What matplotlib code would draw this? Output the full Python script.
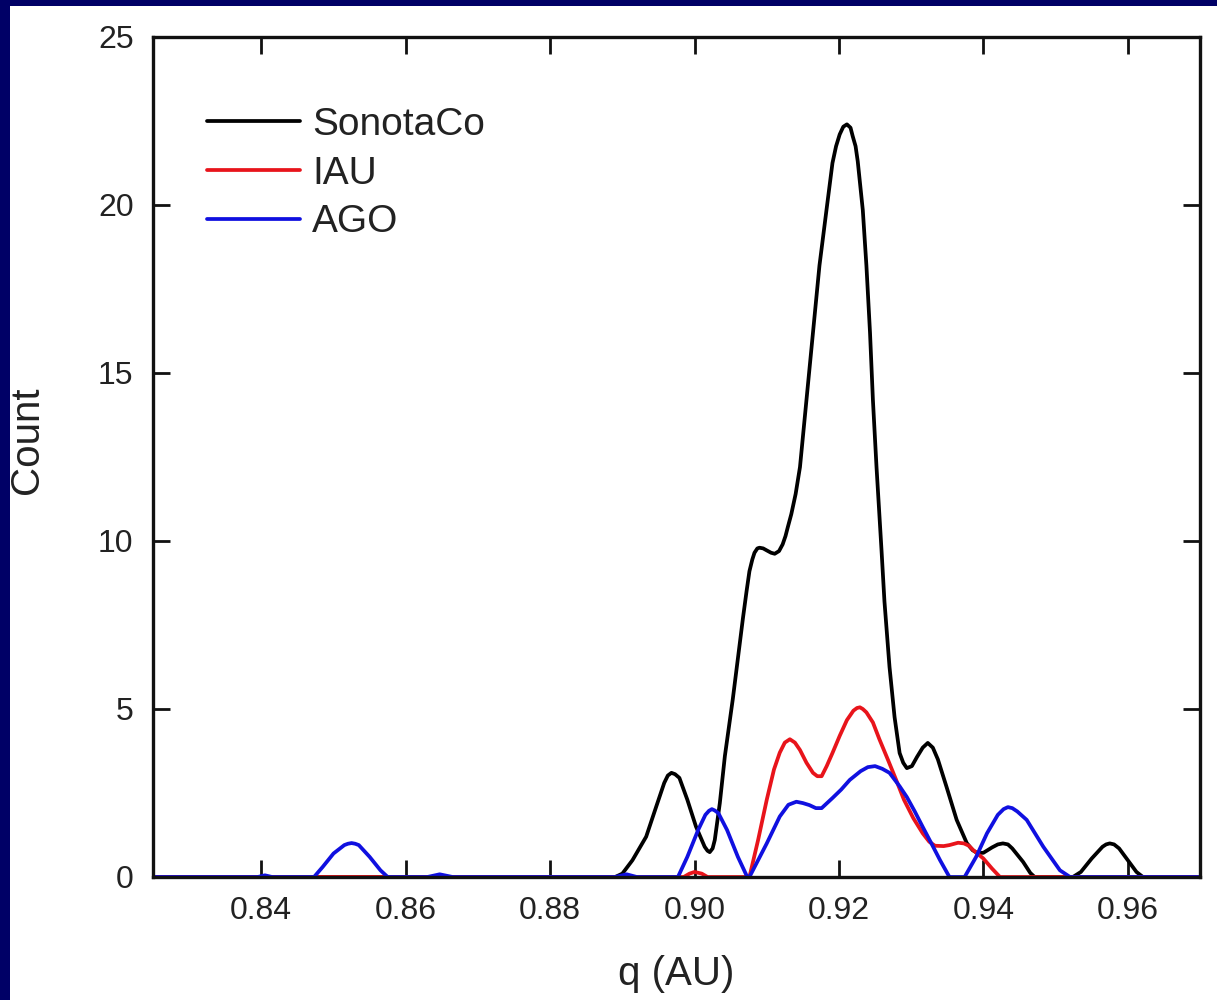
import matplotlib
matplotlib.use("Agg")
import matplotlib.pyplot as plt
from matplotlib.patches import Rectangle

plt.rcParams['font.family'] = ['Liberation Sans', 'DejaVu Sans']

# ---- data ----
sonota_q = [0.8250, 0.8890, 0.8900, 0.8914, 0.8933, 0.8947, 0.8958, 0.8963, 0.8968, 0.8973,
            0.8979, 0.8990, 0.9002, 0.9014, 0.9018, 0.9021, 0.9025, 0.9028, 0.9035, 0.9042,
            0.9053, 0.9067, 0.9072, 0.9076, 0.9080, 0.9083, 0.9087, 0.9090, 0.9095, 0.9100,
            0.9106, 0.9111, 0.9117, 0.9122, 0.9126, 0.9129, 0.9134, 0.9140, 0.9146, 0.9155,
            0.9164, 0.9173, 0.9183, 0.9191, 0.9196, 0.9201, 0.9206, 0.9211, 0.9216, 0.9219,
            0.9223, 0.9226, 0.9233, 0.9238, 0.9243, 0.9247, 0.9252, 0.9259, 0.9263, 0.9270,
            0.9277, 0.9284, 0.9289, 0.9294, 0.9301, 0.9308, 0.9316, 0.9323, 0.9330, 0.9337,
            0.9349, 0.9363, 0.9377, 0.9385, 0.9391, 0.9400, 0.9412, 0.9420, 0.9427, 0.9434,
            0.9440, 0.9455, 0.9465, 0.9471, 0.9524, 0.9535, 0.9550, 0.9565, 0.9570, 0.9575,
            0.9581, 0.9588, 0.9600, 0.9612, 0.9621, 0.9700]
sonota_n = [0.0, 0.0, 0.1, 0.5, 1.2, 2.1, 2.8, 3.02, 3.1, 3.06,
            2.95, 2.3, 1.5, 0.9, 0.78, 0.74, 0.85, 1.1, 2.2, 3.6,
            5.3, 7.7, 8.5, 9.1, 9.45, 9.65, 9.78, 9.8, 9.78, 9.72,
            9.65, 9.62, 9.7, 9.9, 10.15, 10.4, 10.8, 11.4, 12.2, 14.2,
            16.2, 18.2, 19.9, 21.25, 21.75, 22.1, 22.33, 22.4, 22.3, 22.05,
            21.75, 21.3, 19.85, 18.2, 16.2, 14.2, 12.2, 9.7, 8.2, 6.25,
            4.76, 3.69, 3.4, 3.24, 3.3, 3.57, 3.85, 3.99, 3.85, 3.5,
            2.68, 1.70, 1.01, 0.8, 0.72, 0.72, 0.88, 0.97, 1.0, 0.97,
            0.85, 0.45, 0.12, 0.0, 0.0, 0.15, 0.55, 0.9, 0.97, 1.0,
            0.97, 0.85, 0.5, 0.15, 0.0, 0.0]

iau_q = [0.8250, 0.8985, 0.8993, 0.9000, 0.9010, 0.9018, 0.9076, 0.9088, 0.9100, 0.9110,
         0.9118, 0.9125, 0.9132, 0.9139, 0.9146, 0.9155, 0.9164, 0.9170, 0.9176, 0.9183,
         0.9191, 0.9201, 0.9211, 0.9220, 0.9225, 0.9229, 0.9233, 0.9238, 0.9247, 0.9256,
         0.9268, 0.9279, 0.9290, 0.9303, 0.9316, 0.9325, 0.9333, 0.9345, 0.9353, 0.9365,
         0.9373, 0.9380, 0.9386, 0.9400, 0.9412, 0.9423, 0.9700]
iau_n = [0.0, 0.0, 0.1, 0.15, 0.1, 0.0, 0.0, 1.1, 2.3, 3.2,
         3.7, 4.0, 4.1, 4.0, 3.78, 3.4, 3.1, 3.0, 3.0, 3.3,
         3.69, 4.2, 4.67, 4.95, 5.03, 5.05, 5.0, 4.9, 4.6, 4.1,
         3.48, 2.9, 2.3, 1.75, 1.3, 1.05, 0.93, 0.92, 0.95, 1.02,
         1.0, 0.93, 0.8, 0.55, 0.25, 0.0, 0.0]

ago_q = [0.8250, 0.8395, 0.8405, 0.8415, 0.8473, 0.8485, 0.8500, 0.8515, 0.8520, 0.8525,
         0.8530, 0.8535, 0.8550, 0.8565, 0.8575, 0.8630, 0.8647, 0.8665, 0.8890, 0.8906,
         0.8920, 0.8977, 0.8990, 0.9005, 0.9015, 0.9020, 0.9024, 0.9028, 0.9033, 0.9045,
         0.9060, 0.9073, 0.9076, 0.9088, 0.9100, 0.9118, 0.9130, 0.9141, 0.9150, 0.9159,
         0.9168, 0.9176, 0.9191, 0.9203, 0.9215, 0.9230, 0.9240, 0.9250, 0.9260, 0.9270,
         0.9284, 0.9294, 0.9305, 0.9316, 0.9328, 0.9340, 0.9353, 0.9374, 0.9390, 0.9405,
         0.9420, 0.9428, 0.9434, 0.9440, 0.9447, 0.9460, 0.9483, 0.9506, 0.9520, 0.9700]
ago_n = [0.0, 0.0, 0.05, 0.0, 0.0, 0.3, 0.7, 0.95, 0.99, 1.01,
         0.99, 0.95, 0.6, 0.2, 0.0, 0.0, 0.08, 0.0, 0.0, 0.08,
         0.0, 0.0, 0.6, 1.4, 1.85, 1.97, 2.02, 1.98, 1.9, 1.4,
         0.6, 0.0, 0.0, 0.5, 1.0, 1.8, 2.15, 2.24, 2.2, 2.14,
         2.05, 2.05, 2.35, 2.6, 2.89, 3.15, 3.27, 3.3, 3.22, 3.1,
         2.7, 2.38, 1.95, 1.49, 1.0, 0.5, 0.0, 0.0, 0.6, 1.3,
         1.85, 2.02, 2.08, 2.05, 1.95, 1.7, 0.9, 0.2, 0.0, 0.0]

series_names = ["SonotaCo", "IAU", "AGO"]
series_colors = ["#000000", "#e8141b", "#1010e0"]
x_ticks = [0.84, 0.86, 0.88, 0.90, 0.92, 0.94, 0.96]
y_ticks = [0, 5, 10, 15, 20, 25]

# ---- figure ----
fig = plt.figure(figsize=(12.17, 10.0), dpi=100)
fig.patch.set_facecolor("#000066")
fig.add_artist(Rectangle((10 / 1217, 0), 1 - 10 / 1217, 1 - 6 / 1000,
                         transform=fig.transFigure, facecolor="white",
                         edgecolor="none", zorder=-5))

ax = fig.add_axes([153 / 1217, 1 - 877 / 1000, (1200 - 153) / 1217, (877 - 37) / 1000])
ax.set_facecolor("white")

for q, n, name, col in zip([sonota_q, iau_q, ago_q], [sonota_n, iau_n, ago_n],
                           series_names, series_colors):
    ax.plot(q, n, color=col, lw=2.7, label=name, solid_joinstyle="round",
            solid_capstyle="round")

ax.set_xlim(0.825, 0.970)
ax.set_ylim(0, 25)
ax.set_xticks(x_ticks)
ax.set_xticklabels([f"{t:.2f}" for t in x_ticks])
ax.set_yticks(y_ticks)
ax.tick_params(direction="in", length=12, width=2.0, labelsize=23,
               top=True, right=True, color="#111111", labelcolor="#222222")
ax.tick_params(axis="x", pad=14)
ax.tick_params(axis="y", pad=14)
for s in ax.spines.values():
    s.set_linewidth(2.4)
    s.set_color("#111111")

ax.set_xlabel("q (AU)", fontsize=29, color="#222222")
ax.set_ylabel("Count", fontsize=29, color="#222222")
ax.xaxis.set_label_coords(0.5, -0.093)
ax.yaxis.set_label_coords(-0.102, 0.52)

leg = ax.legend(loc="upper left", bbox_to_anchor=(0.0516, 0.917), frameon=False,
                fontsize=28, handlelength=2.4, handletextpad=0.3, labelspacing=0.33,
                borderaxespad=0, borderpad=0)
for t in leg.get_texts():
    t.set_color("#222222")

fig.savefig("out.png", dpi=100, facecolor=fig.get_facecolor())
